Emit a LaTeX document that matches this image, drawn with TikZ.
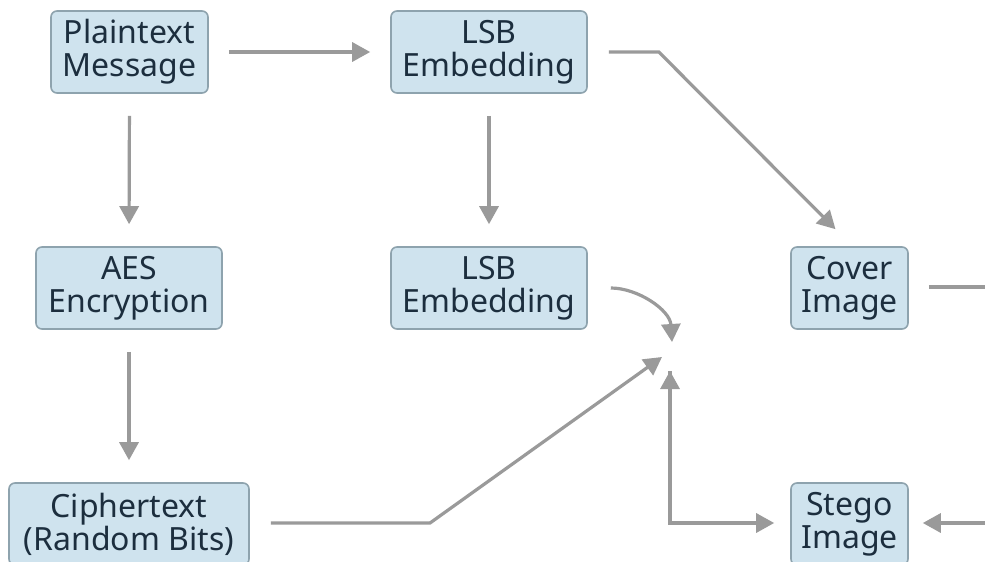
\documentclass[tikz,border=0pt]{standalone}
\usepackage{fontspec}
\setmainfont{Noto Sans}
\usetikzlibrary{arrows.meta,calc}
\definecolor{boxfill}{HTML}{CFE3EE}
\definecolor{boxline}{HTML}{8EA3AE}
\definecolor{boxtext}{HTML}{1C2E3E}
\definecolor{arrgray}{HTML}{9A9A9A}
\tikzset{
  stepbox/.style={draw=boxline, fill=boxfill, rounded corners=6pt, line width=1.6pt,
    align=center, inner sep=0pt, minimum height=82pt, text=boxtext,
    font=\fontsize{32}{33}\selectfont},
  arr/.style={draw=arrgray, line width=3.2pt, line join=miter, -{Triangle[length=18pt,width=19pt]}},
  plainline/.style={draw=arrgray, line width=3.2pt},
}
\begin{document}
\begin{tikzpicture}[x=1pt,y=-1pt]
\useasboundingbox (0,0) rectangle (985,562);
\fill[white] (0,0) rectangle (985,562);
\clip (0,0) rectangle (985,562);

\node[stepbox, minimum width=157pt] (plain) at (129.5,52) {Plaintext\\Message};
\node[stepbox, minimum width=196pt] (lsb1) at (489,52) {LSB\\Embedding};
\node[stepbox, minimum width=186pt] (aes) at (129,288) {AES\\Encryption};
\node[stepbox, minimum width=196pt] (lsb2) at (489,288) {LSB\\Embedding};
\node[stepbox, minimum width=117pt] (cover) at (849.5,288) {Cover\\Image};
\node[stepbox, minimum width=240pt] (cipher) at (129,524) {Ciphertext\\(Random Bits)};
\node[stepbox, minimum width=117pt] (stego) at (849.5,524) {Stego\\Image};

\coordinate (redgeA) at (1000,287);
\coordinate (redgeB) at (1000,523);
\coordinate (corner) at (670,523);

\draw[arr, shorten <=20pt, shorten >=20pt] (plain.east) -- (lsb1.west);
\draw[arr, shorten <=22pt, shorten >=22pt] (plain.south) -- (aes.north);
\draw[arr, shorten <=22pt, shorten >=22pt] (aes.south) -- (cipher.north);
\draw[arr, shorten <=22pt, shorten >=22pt] (lsb1.south) -- (lsb2.north);
\draw[arr, shorten <=21pt] (lsb1.east) -- ++(71,0) -- ($(cover.north)+(-14,-17)$);
\draw[arr, shorten <=23pt] (lsb2.east) .. controls ++(50,0) and (670,310) .. (672,342);
\draw[arr, shorten <=21pt] (cipher.east |- 0,523) -- (430,523) -- (662,357);
\draw[arr, shorten >=16pt] (670,371) -- (corner) -- (stego.west |- corner);
\draw[draw=arrgray, line width=3.2pt, -{Triangle[length=18pt,width=19pt]}] (670,400) -- (670,371);
\draw[plainline, shorten <=20pt] (cover.east |- redgeA) -- (redgeA);
\draw[arr, shorten >=14pt] (redgeB) -- (stego.east |- redgeB);
\end{tikzpicture}
\end{document}
